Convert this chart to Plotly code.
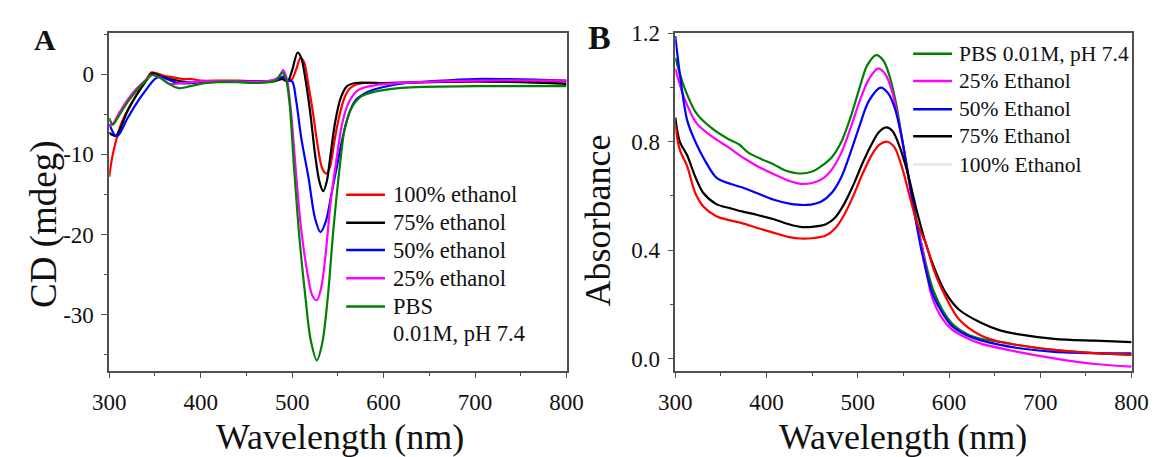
import plotly.graph_objects as go

W, H = 1169, 457

# ---------------- Panel A: CD spectra ----------------
cd_red_x = [300, 303, 307, 312, 320, 330, 340, 346, 352, 360, 370, 380, 390, 400, 420, 440, 460, 480, 488, 495, 500, 505, 509, 513, 518, 523, 528, 533, 537.5, 541.5, 546, 551, 557, 563, 570, 580, 600, 650, 700, 750, 800]
cd_red_y = [-12.8, -10.5, -8.5, -6.5, -4.5, -2.5, -0.8, 0.2, 0.1, -0.2, -0.4, -0.6, -0.6, -0.8, -0.8, -0.8, -0.9, -0.8, -0.6, -0.9, -0.6, 0.8, 2.0, 1.5, -1.5, -5.0, -9.0, -11.8, -12.4, -11.5, -8.5, -5.5, -3.0, -1.8, -1.3, -1.1, -1.1, -1.0, -0.9, -0.9, -0.9]

cd_black_x = [300, 307, 312, 320, 330, 340, 347, 355, 370, 385, 400, 420, 460, 480, 490, 495, 500, 506, 510, 515, 520, 525, 530, 534, 538, 542, 547, 553, 560, 569, 600, 700, 800]
cd_black_y = [-7.3, -7.7, -6.8, -4.6, -2.6, -0.9, 0.1, -0.2, -0.7, -1.0, -1.0, -0.9, -0.9, -0.9, -0.6, -0.9, 0.5, 2.7, 2.0, -1.0, -5.0, -10.0, -13.5, -14.6, -13.3, -10.0, -6.0, -3.0, -1.5, -1.1, -1.1, -0.9, -1.2]

cd_blue_x = [300, 307, 310, 320, 330, 340, 350, 356, 365, 375, 390, 400, 440, 470, 485, 490, 495, 500, 504, 510, 518, 525, 531, 537, 543, 549, 555, 562, 569, 583, 600, 625, 650, 700, 800]
cd_blue_y = [-6.2, -7.7, -7.6, -5.5, -3.6, -2.0, -0.6, -0.3, -0.7, -1.1, -1.1, -1.0, -0.9, -0.9, -0.6, -0.3, -0.8, -0.9, -3.0, -8.0, -13.0, -18.0, -19.7, -18.3, -14.9, -11.5, -8.0, -5.0, -3.3, -2.2, -1.6, -1.1, -0.9, -0.6, -0.8]

cd_mag_x = [300, 304, 310, 320, 330, 340, 346, 355, 366, 380, 400, 440, 470, 480, 486, 490, 494, 499, 504, 510, 517, 522, 527, 532, 537, 542, 548, 555, 562, 572, 590, 620, 700, 800]
cd_mag_y = [-6.5, -6.2, -5.0, -3.2, -1.8, -0.7, -0.1, -0.4, -1.2, -1.1, -0.9, -0.9, -0.9, -0.7, -0.3, 0.5, -0.5, -5.0, -12.0, -19.5, -25.0, -27.6, -28.2, -26.5, -22.0, -16.0, -11.0, -6.0, -3.5, -2.0, -1.4, -1.1, -0.8, -0.8]

cd_green_x = [300, 304, 310, 320, 330, 340, 347, 355, 365, 376, 385, 400, 420, 440, 460, 475, 483, 489, 493, 497, 502, 508, 514.5, 520, 527, 533, 539, 545, 552, 558, 566, 575, 590, 620, 700, 800]
cd_green_y = [-5.5, -6.3, -5.3, -3.5, -2.0, -0.8, -0.1, -0.4, -1.2, -1.75, -1.6, -1.2, -1.0, -1.0, -1.1, -1.0, -0.7, 0.2, -0.5, -3.5, -11.6, -20.5, -27.8, -33.0, -35.7, -33.5, -27.8, -19.5, -11.6, -6.5, -4.0, -2.8, -2.2, -1.7, -1.5, -1.5]

cd_names = ["100% ethanol", "75% ethanol", "50% ethanol", "25% ethanol", "PBS"]
cd_extra_line = "0.01M, pH 7.4"

# ---------------- Panel B: absorbance ----------------
ab_green_x = [300, 310, 323, 340, 358, 370, 380, 395, 408, 420, 437, 450, 460, 472, 482, 492, 502, 510, 520, 528, 535, 542, 550, 560, 570, 583, 603, 620, 635, 660, 675, 715, 760, 800]
ab_green_y = [1.11, 1.0, 0.906, 0.85, 0.81, 0.79, 0.76, 0.735, 0.716, 0.695, 0.683, 0.69, 0.71, 0.745, 0.80, 0.89, 1.0, 1.08, 1.12, 1.10, 1.04, 0.94, 0.78, 0.59, 0.42, 0.25, 0.13, 0.09, 0.073, 0.06, 0.05, 0.032, 0.02, 0.013]

ab_mag_x = [300, 310, 323, 340, 358, 375, 390, 408, 425, 437, 450, 462, 472, 482, 492, 502, 512, 522, 530, 538, 546, 555, 563, 571, 581, 592, 603, 620, 635, 675, 715, 760, 800]
ab_mag_y = [1.07, 0.96, 0.87, 0.82, 0.78, 0.74, 0.71, 0.68, 0.655, 0.645, 0.648, 0.665, 0.70, 0.76, 0.85, 0.95, 1.03, 1.07, 1.05, 0.98, 0.85, 0.68, 0.52, 0.40, 0.23, 0.15, 0.108, 0.075, 0.055, 0.025, 0.001, -0.02, -0.03]

ab_blue_x = [300, 305, 313, 322, 331, 345, 360, 373, 390, 408, 425, 444, 460, 472, 482, 492, 502, 512, 525, 533, 540, 548, 556, 563, 571, 583, 603, 620, 635, 675, 715, 760, 800]
ab_blue_y = [1.19, 1.05, 0.88, 0.80, 0.74, 0.668, 0.645, 0.632, 0.61, 0.586, 0.572, 0.567, 0.58, 0.614, 0.67, 0.76, 0.86, 0.95, 1.0, 0.98, 0.93, 0.82, 0.66, 0.52, 0.38, 0.23, 0.121, 0.085, 0.067, 0.039, 0.025, 0.02, 0.019]

ab_black_x = [300, 305, 313, 322, 331, 345, 360, 373, 390, 408, 425, 437, 452, 465, 475, 485, 495, 505, 515, 523, 531, 538, 546, 555, 565, 574, 582, 595, 611, 635, 655, 675, 715, 760, 800]
ab_black_y = [0.89, 0.80, 0.75, 0.67, 0.61, 0.57, 0.555, 0.543, 0.53, 0.514, 0.495, 0.486, 0.487, 0.496, 0.52, 0.57, 0.64, 0.72, 0.79, 0.835, 0.853, 0.84, 0.78, 0.68, 0.54, 0.43, 0.35, 0.25, 0.18, 0.132, 0.105, 0.09, 0.073, 0.066, 0.061]

ab_red_x = [300, 305, 313, 322, 331, 345, 360, 373, 390, 408, 425, 437, 452, 465, 475, 485, 495, 505, 515, 524, 532, 540, 548, 556, 565, 575, 583, 591, 611, 635, 655, 675, 715, 760, 800]
ab_red_y = [0.86, 0.77, 0.71, 0.61, 0.56, 0.525, 0.51, 0.50, 0.482, 0.464, 0.448, 0.443, 0.445, 0.454, 0.48, 0.53, 0.60, 0.68, 0.75, 0.79, 0.80, 0.78, 0.71, 0.61, 0.50, 0.42, 0.33, 0.264, 0.144, 0.085, 0.062, 0.05, 0.032, 0.02, 0.015]

ab_names = ["PBS 0.01M, pH 7.4", "25% Ethanol", "50% Ethanol", "75% Ethanol", "100% Ethanol"]

# x / y tick values
x_ticks = [300, 400, 500, 600, 700, 800]
cd_ticks = [0, -10, -20, -30]
ab_ticks = [0.0, 0.4, 0.8, 1.2]
ab_tick_text = ["0.0", "0.4", "0.8", "1.2"]

RED, BLACK, BLUE, MAG, GREEN = "#ff0000", "#000000", "#0000ff", "#ff00ff", "#008000"
FONT = "Liberation Serif"
AX = "#505050"

fig = go.Figure()

cd_series = [
    (cd_red_x, cd_red_y, RED),
    (cd_black_x, cd_black_y, BLACK),
    (cd_blue_x, cd_blue_y, BLUE),
    (cd_mag_x, cd_mag_y, MAG),
    (cd_green_x, cd_green_y, GREEN),
]
for (xs, ys, c), nm in zip(cd_series, cd_names):
    fig.add_trace(go.Scatter(x=xs, y=ys, mode="lines", name=nm, showlegend=False,
                             line=dict(color=c, width=2.2, shape="spline", smoothing=0.9),
                             xaxis="x", yaxis="y"))

ab_series = [
    (ab_green_x, ab_green_y, GREEN),
    (ab_mag_x, ab_mag_y, MAG),
    (ab_blue_x, ab_blue_y, BLUE),
    (ab_black_x, ab_black_y, BLACK),
    (ab_red_x, ab_red_y, RED),
]
for (xs, ys, c), nm in zip(ab_series, ab_names):
    fig.add_trace(go.Scatter(x=xs, y=ys, mode="lines", name=nm, showlegend=False,
                             line=dict(color=c, width=2.2, shape="spline", smoothing=0.9),
                             xaxis="x2", yaxis="y2"))

ydom = [(H - 369) / H, (H - 22) / H]
axis_common = dict(showline=True, linecolor=AX, linewidth=1.5, mirror=True,
                   ticks="outside", ticklen=6, tickwidth=1.3, tickcolor=AX,
                   showgrid=False, zeroline=False,
                   tickfont=dict(family=FONT, size=23, color="#111"))

fig.update_layout(
    width=W, height=H, autosize=False,
    margin=dict(l=0, r=0, t=0, b=0),
    paper_bgcolor="white", plot_bgcolor="white",
    showlegend=False,
    font=dict(family=FONT),
    xaxis=dict(domain=[95 / W, 566 / W], range=[300, 800], tickvals=x_ticks, ticklabelstandoff=4,
               minor=dict(dtick=50, tick0=300, ticks="outside", ticklen=3.5, tickcolor=AX), anchor="y",
               **axis_common),
    yaxis=dict(domain=ydom, range=[-36.97, 5.09], tickvals=cd_ticks, ticklabelstandoff=3,
               ticktext=[str(v) for v in cd_ticks],
               minor=dict(dtick=5, tick0=0, ticks="outside", ticklen=3.5, tickcolor=AX), anchor="x",
               **axis_common),
    xaxis2=dict(domain=[678 / W, 1148 / W], range=[300, 800], tickvals=x_ticks, ticklabelstandoff=4,
                minor=dict(dtick=50, tick0=300, ticks="outside", ticklen=3.5, tickcolor=AX), anchor="y2",
                **axis_common),
    yaxis2=dict(domain=ydom, range=[-0.044, 1.2], tickvals=ab_ticks, ticktext=ab_tick_text, ticklabelstandoff=3,
                minor=dict(dtick=0.2, tick0=0, ticks="outside", ticklen=3.5, tickcolor=AX), anchor="x2",
                **axis_common),
)

ann = []
def txt(x, y, s, size, xanchor="center", yanchor="middle", angle=0, bold=False):
    ann.append(dict(x=x / W, y=1 - y / H, xref="paper", yref="paper", text=("<b>%s</b>" % s) if bold else s,
                    showarrow=False, xanchor=xanchor, yanchor=yanchor, textangle=angle,
                    font=dict(family=FONT, size=size, color="#111")))

# panel letters
txt(28.5, 28, "A", 30, bold=True)
txt(600, 26, "B", 34, bold=True)
# axis titles
txt(333, 437, "Wavelength\u2009(nm)", 36)
txt(913, 437, "Wavelength\u2009(nm)", 36)
txt(28, 218, "CD (mdeg)", 37, angle=-90)
txt(598, 215, "Absorbance", 36, angle=-90)

shapes = []
# legend A
legA_rows = [188, 217, 245, 274, 303]
for (xs, ys, c), nm, yy in zip(cd_series, cd_names, legA_rows):
    shapes.append(dict(type="line", xref="paper", yref="paper", x0=339 / W, x1=379 / W,
                       y0=1 - yy / H, y1=1 - yy / H, line=dict(color=c, width=2.5)))
    txt(385, yy, nm, 22.5, xanchor="left")
txt(385, 331, cd_extra_line, 22.5, xanchor="left")

# legend B
legB_rows = [43, 71, 100, 128, 157]
legB_colors = [GREEN, MAG, BLUE, BLACK, "#e6e6e6"]
for c, nm, yy in zip(legB_colors, ab_names, legB_rows):
    shapes.append(dict(type="line", xref="paper", yref="paper", x0=923 / W, x1=963 / W,
                       y0=1 - yy / H, y1=1 - yy / H, line=dict(color=c, width=2.5)))
    txt(968, yy, nm, 21.5, xanchor="left")

fig.update_layout(annotations=ann, shapes=shapes)
fig.write_html("out.html")
